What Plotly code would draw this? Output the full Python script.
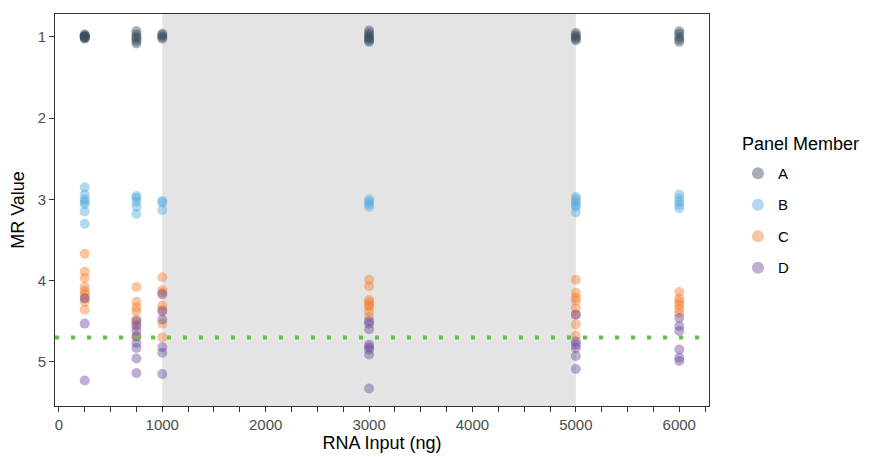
import plotly.graph_objects as go

# RNA input levels (ng)
x_levels = [250, 750, 1000, 3000, 5000, 6000]

# MR values per panel member, grouped by RNA input level
A_vals = [
    [0.97, 0.98, 0.99, 1.00, 1.00, 1.01, 1.02],
    [0.93, 0.97, 1.00, 1.02, 1.05, 1.08],
    [0.96, 0.98, 1.00, 1.02],
    [0.92, 0.95, 0.98, 1.00, 1.02, 1.04, 1.06],
    [0.95, 0.98, 1.00, 1.02, 1.04],
    [0.93, 0.96, 1.00, 1.03, 1.06],
]
B_vals = [
    [2.85, 2.94, 3.00, 3.03, 3.06, 3.15, 3.30],
    [2.96, 2.98, 3.03, 3.09, 3.18],
    [3.02, 3.04, 3.13],
    [3.00, 3.03, 3.06, 3.09],
    [2.97, 3.00, 3.03, 3.07, 3.09, 3.16],
    [2.94, 2.99, 3.03, 3.07, 3.11],
]
C_vals = [
    [3.67, 3.89, 3.97, 4.08, 4.13, 4.17, 4.21, 4.26, 4.36],
    [4.08, 4.26, 4.33, 4.38, 4.48, 4.54, 4.69],
    [3.96, 4.12, 4.15, 4.31, 4.36, 4.53, 4.70],
    [3.99, 4.07, 4.24, 4.27, 4.30, 4.32, 4.38, 4.45],
    [3.99, 4.15, 4.21, 4.25, 4.34, 4.42, 4.54, 4.68],
    [4.14, 4.22, 4.26, 4.30, 4.35, 4.40],
]
D_vals = [
    [4.22, 4.53, 5.23],
    [4.50, 4.56, 4.62, 4.69, 4.77, 4.83, 4.96, 5.14],
    [4.17, 4.38, 4.48, 4.82, 4.89, 5.15],
    [4.50, 4.53, 4.60, 4.79, 4.82, 4.85, 4.91, 5.33],
    [4.42, 4.75, 4.79, 4.83, 4.93, 5.09],
    [4.46, 4.56, 4.62, 4.85, 4.95, 4.99],
]

members = ["A", "B", "C", "D"]
member_vals = [A_vals, B_vals, C_vals, D_vals]
colors = ["#394b5f", "#55aade", "#f47f2e", "#6c4b9b"]

threshold = 4.7
shade_range = [1000, 5000]
x_ticks = [0, 1000, 2000, 3000, 4000, 5000, 6000]

fig = go.Figure()
for name, vals, col in zip(members, member_vals, colors):
    xs, ys = [], []
    for xl, vs in zip(x_levels, vals):
        xs += [xl] * len(vs)
        ys += vs
    fig.add_trace(go.Scatter(
        x=xs, y=ys, mode="markers", name=name, legendgroup=name,
        marker=dict(color=col, size=10, opacity=0.45, line=dict(width=0)),
    ))

fig.add_shape(type="rect", xref="x", yref="paper", x0=shade_range[0], x1=shade_range[1],
              y0=0, y1=1, fillcolor="#e4e4e4", line=dict(width=0), layer="below")
fig.add_shape(type="line", xref="paper", yref="y", x0=0, x1=1, y0=threshold, y1=threshold,
              line=dict(color="#66c04a", width=4, dash="4px,12px"), layer="above")

fig.add_annotation(text="Panel Member", xref="paper", yref="paper", x=1.0474, y=0.668,
                   xanchor="left", yanchor="middle", showarrow=False,
                   font=dict(size=18, color="#000"))

fig.update_layout(
    width=865, height=449,
    margin=dict(l=47, r=164, t=6, b=51),
    plot_bgcolor="white", paper_bgcolor="white",
    font=dict(family="Liberation Sans, Arial, sans-serif", color="#000000"),
    legend=dict(
        font=dict(size=15, color="#000"),
        x=1.0443, y=0.6355, xanchor="left", yanchor="top",
        tracegroupgap=9, itemsizing="constant",
    ),
    xaxis=dict(
        range=[-37.5, 6287.5], tickvals=x_ticks, ticktext=[str(v) for v in x_ticks],
        ticks="outside", ticklen=5, tickcolor="#333", tickwidth=1,
        minor=dict(dtick=250, tick0=0, ticks="outside", ticklen=5, tickcolor="#333", showgrid=False),
        showgrid=False, zeroline=False, automargin=False,
        showline=True, linecolor="#333", linewidth=1, mirror=True,
        tickfont=dict(size=15, color="#4d4d4d"),
        title=dict(text="RNA Input (ng)", font=dict(size=18, color="#000"), standoff=4),
    ),
    yaxis=dict(
        range=[5.545, 0.717], tickvals=[1, 2, 3, 4, 5],
        ticks="outside", ticklen=5, tickcolor="#333", tickwidth=1,
        showgrid=False, zeroline=False, automargin=False,
        showline=True, linecolor="#333", linewidth=1, mirror=True,
        tickfont=dict(size=15, color="#4d4d4d"),
        title=dict(text="MR Value", font=dict(size=18, color="#000"), standoff=8),
    ),
)

fig.write_html("out.html")
